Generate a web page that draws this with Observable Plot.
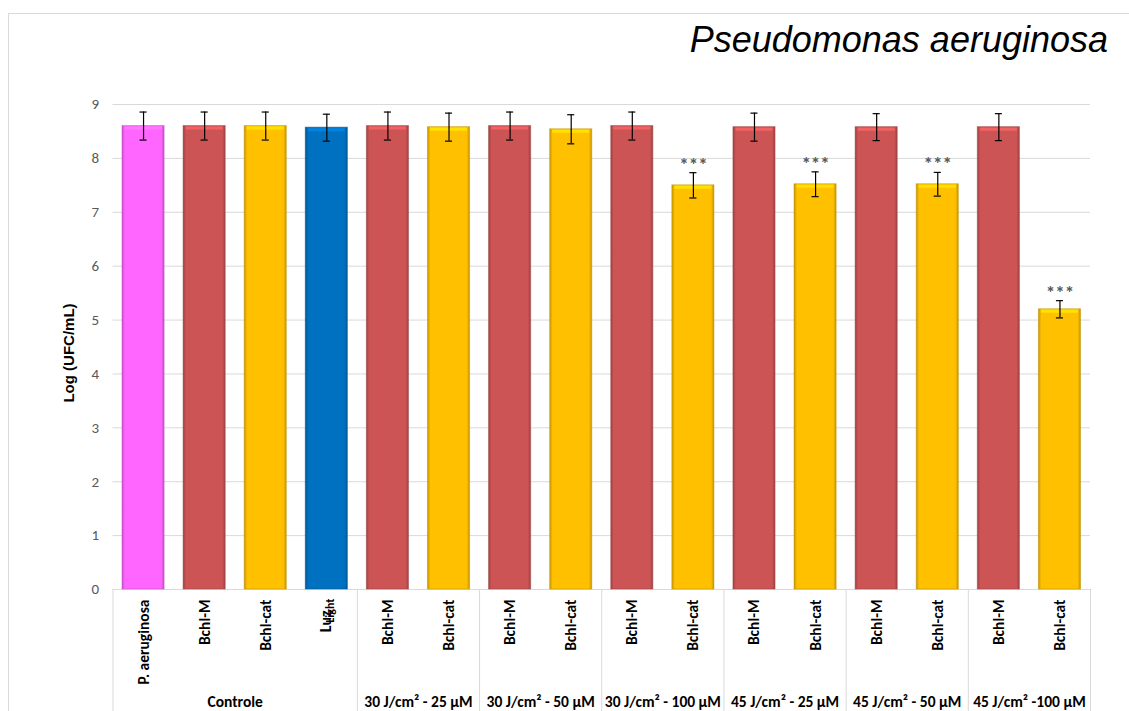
<!DOCTYPE html>
<html>
<head>
<meta charset="utf-8">
<script src="https://cdn.jsdelivr.net/npm/d3@7"></script>
<script src="https://cdn.jsdelivr.net/npm/@observablehq/plot@0.6"></script>
<style>
  body { margin: 0; background: #fff; }
  #wrap { position: relative; width: 1129px; height: 711px; overflow: hidden; }
  #frame { position: absolute; left: 8px; top: 13px; right: 0; bottom: 0;
           border-top: 1px solid #d9d9d9; border-left: 1px solid #d9d9d9; }
  #title { position: relative; height: 60px; box-sizing: border-box;
           padding-top: 22px; padding-right: 21px; text-align: right;
           font: italic 36px/1 "Liberation Sans", Arial, sans-serif; color: #000; }
  #chart svg { display: block; }
</style>
</head>
<body>
<div id="wrap">
  <div id="frame"></div>
  <div id="title">Pseudomonas aeruginosa</div>
  <div id="chart"></div>
</div>
<script>
// Bacterial load, Log (UFC/mL), per treatment
const barLabels = ["P. aeruginosa", "Bchl-M", "Bchl-cat", "Luz",
                   "Bchl-M", "Bchl-cat", "Bchl-M", "Bchl-cat",
                   "Bchl-M", "Bchl-cat", "Bchl-M", "Bchl-cat",
                   "Bchl-M", "Bchl-cat", "Bchl-M", "Bchl-cat"];
const lightLabel = "Light";
const groupNames = ["Controle", "30 J/cm² - 25 μM", "30 J/cm² - 50 μM", "30 J/cm² - 100 μM",
                    "45 J/cm² - 25 μM", "45 J/cm² - 50 μM", "45 J/cm² -100 μM"];
const groupSizes = [4, 2, 2, 2, 2, 2, 2];
const logUFC = [8.60, 8.60, 8.60, 8.57, 8.60, 8.58, 8.60, 8.54,
                8.60, 7.50, 8.58, 7.52, 8.58, 7.52, 8.58, 5.20];
const errUFC = [0.26, 0.26, 0.26, 0.25, 0.26, 0.26, 0.26, 0.27,
                0.26, 0.235, 0.26, 0.23, 0.25, 0.22, 0.25, 0.16];
const barKinds = ["pink", "red", "gold", "blue", "red", "gold", "red", "gold",
                  "red", "gold", "red", "gold", "red", "gold", "red", "gold"];
const signif = ["", "", "", "", "", "", "", "", "", "***", "", "***", "", "***", "", "***"];
const yTicks = [0, 1, 2, 3, 4, 5, 6, 7, 8, 9];

const palette = {pink: "#ff66ff", red: "#cd5454", gold: "#ffc000", blue: "#0070c0"};
const labelFont = "Carlito, Calibri, Lato, sans-serif";

const bars = logUFC.map((v, i) => ({i, v, e: errUFC[i], kind: barKinds[i], sig: signif[i]}));
const bounds = [0];
groupSizes.forEach(n => bounds.push(bounds[bounds.length - 1] + n));
const groupCenters = groupNames.map((_, k) => (bounds[k] + bounds[k + 1]) / 2);
const barCenters = bars.map(d => d.i + 0.5);

const shade = (k, f) => d3.color(palette[k])[f > 0 ? "brighter" : "darker"](Math.abs(f)).formatHex();

const chart = Plot.plot({
  width: 1129,
  height: 651,
  marginTop: 44,
  marginBottom: 122,
  marginLeft: 112.5,
  marginRight: 39,
  style: {fontFamily: labelFont, background: "transparent"},
  x: {domain: [0, 16], label: null, axis: null},
  y: {domain: [0, 9], label: null, axis: null},
  color: {type: "identity"},
  marks: [
    Plot.gridY(yTicks.slice(1), {stroke: "#d9d9d9", strokeOpacity: 1}),
    Plot.axisY(yTicks, {tickSize: 0, tickPadding: 14, tickFormat: d => String(d),
                        fontSize: 15, fill: "#595959", label: null}),
    Plot.axisX(bounds, {tickSize: 122, stroke: "#d9d9d9", strokeOpacity: 1, tickFormat: () => "", label: null}),
    Plot.ruleY([0], {stroke: "#d9d9d9"}),
    Plot.rectY(bars, {
      x1: "i", x2: d => d.i + 1, y1: 0, y2: "v",
      insetLeft: 9.5, insetRight: 9.5,
      fill: d => `url(#bar-${d.kind})`,
      stroke: d => shade(d.kind, -0.8), strokeOpacity: 0.5, strokeWidth: 1
    }),
    Plot.ruleY(bars, {
      y: "v", x1: "i", x2: d => d.i + 1, insetLeft: 12, insetRight: 12,
      stroke: d => shade(d.kind, 0.45), strokeWidth: 3, dy: 2
    }),
    Plot.ruleX(bars, {x: d => d.i + 0.5, y1: d => d.v - d.e, y2: d => d.v + d.e, stroke: "#000", strokeWidth: 1.2}),
    Plot.ruleY(bars, {y: d => d.v + d.e, x1: "i", x2: d => d.i + 1, insetLeft: 27, insetRight: 27, stroke: "#000", strokeWidth: 1.2}),
    Plot.ruleY(bars, {y: d => d.v - d.e, x1: "i", x2: d => d.i + 1, insetLeft: 27, insetRight: 27, stroke: "#000", strokeWidth: 1.2}),
    Plot.text(bars.filter(d => d.sig), {
      x: d => d.i + 0.5, y: d => d.v + d.e, text: "sig",
      dy: -8, fill: "#595959", fontSize: 19, fontWeight: "bold"
    }),
    Plot.axisX(barCenters, {
      tickFormat: x => (Math.floor(x) === 3 ? "" : barLabels[Math.floor(x)]),
      tickRotate: -90, tickSize: 0, tickPadding: 10,
      fontWeight: "bold", fontSize: 15.5, fill: "#000", label: null
    }),
    Plot.text([barLabels[3]], {
      x: 3.5, y: 0, text: d => d, rotate: -90, textAnchor: "end",
      dy: 21, dx: -1, fontWeight: "bold", fontSize: 16, fill: "#000"
    }),
    Plot.text([lightLabel], {
      x: 3.5, y: 0, text: d => d, rotate: -90, textAnchor: "end",
      dy: 9, dx: 3, fontWeight: "bold", fontSize: 12, fill: "#000"
    }),
    Plot.axisX(groupCenters, {
      tickFormat: x => groupNames[groupCenters.indexOf(x)],
      tickSize: 0, tickPadding: 106,
      fontWeight: "bold", fontSize: 15.5, fill: "#000", label: null
    }),
    Plot.text(["Log (UFC/mL)"], {
      frameAnchor: "left", text: d => d, rotate: -90, textAnchor: "middle",
      dx: -44, dy: 6, fontWeight: "bold", fontSize: 15,
      fontFamily: "'Liberation Sans', Arial, sans-serif", fill: "#000"
    })
  ]
});

// horizontal bevel gradients for the bar fills
const defs = d3.select(chart).insert("defs", ":first-child");
for (const k of Object.keys(palette)) {
  const g = defs.append("linearGradient").attr("id", `bar-${k}`)
    .attr("x1", "0").attr("x2", "1").attr("y1", "0").attr("y2", "0");
  [[0, shade(k, -0.7)], [0.07, palette[k]], [0.93, palette[k]], [1, shade(k, -0.7)]]
    .forEach(([o, c]) => g.append("stop").attr("offset", o).attr("stop-color", c));
}

document.getElementById("chart").append(chart);
</script>
</body>
</html>
